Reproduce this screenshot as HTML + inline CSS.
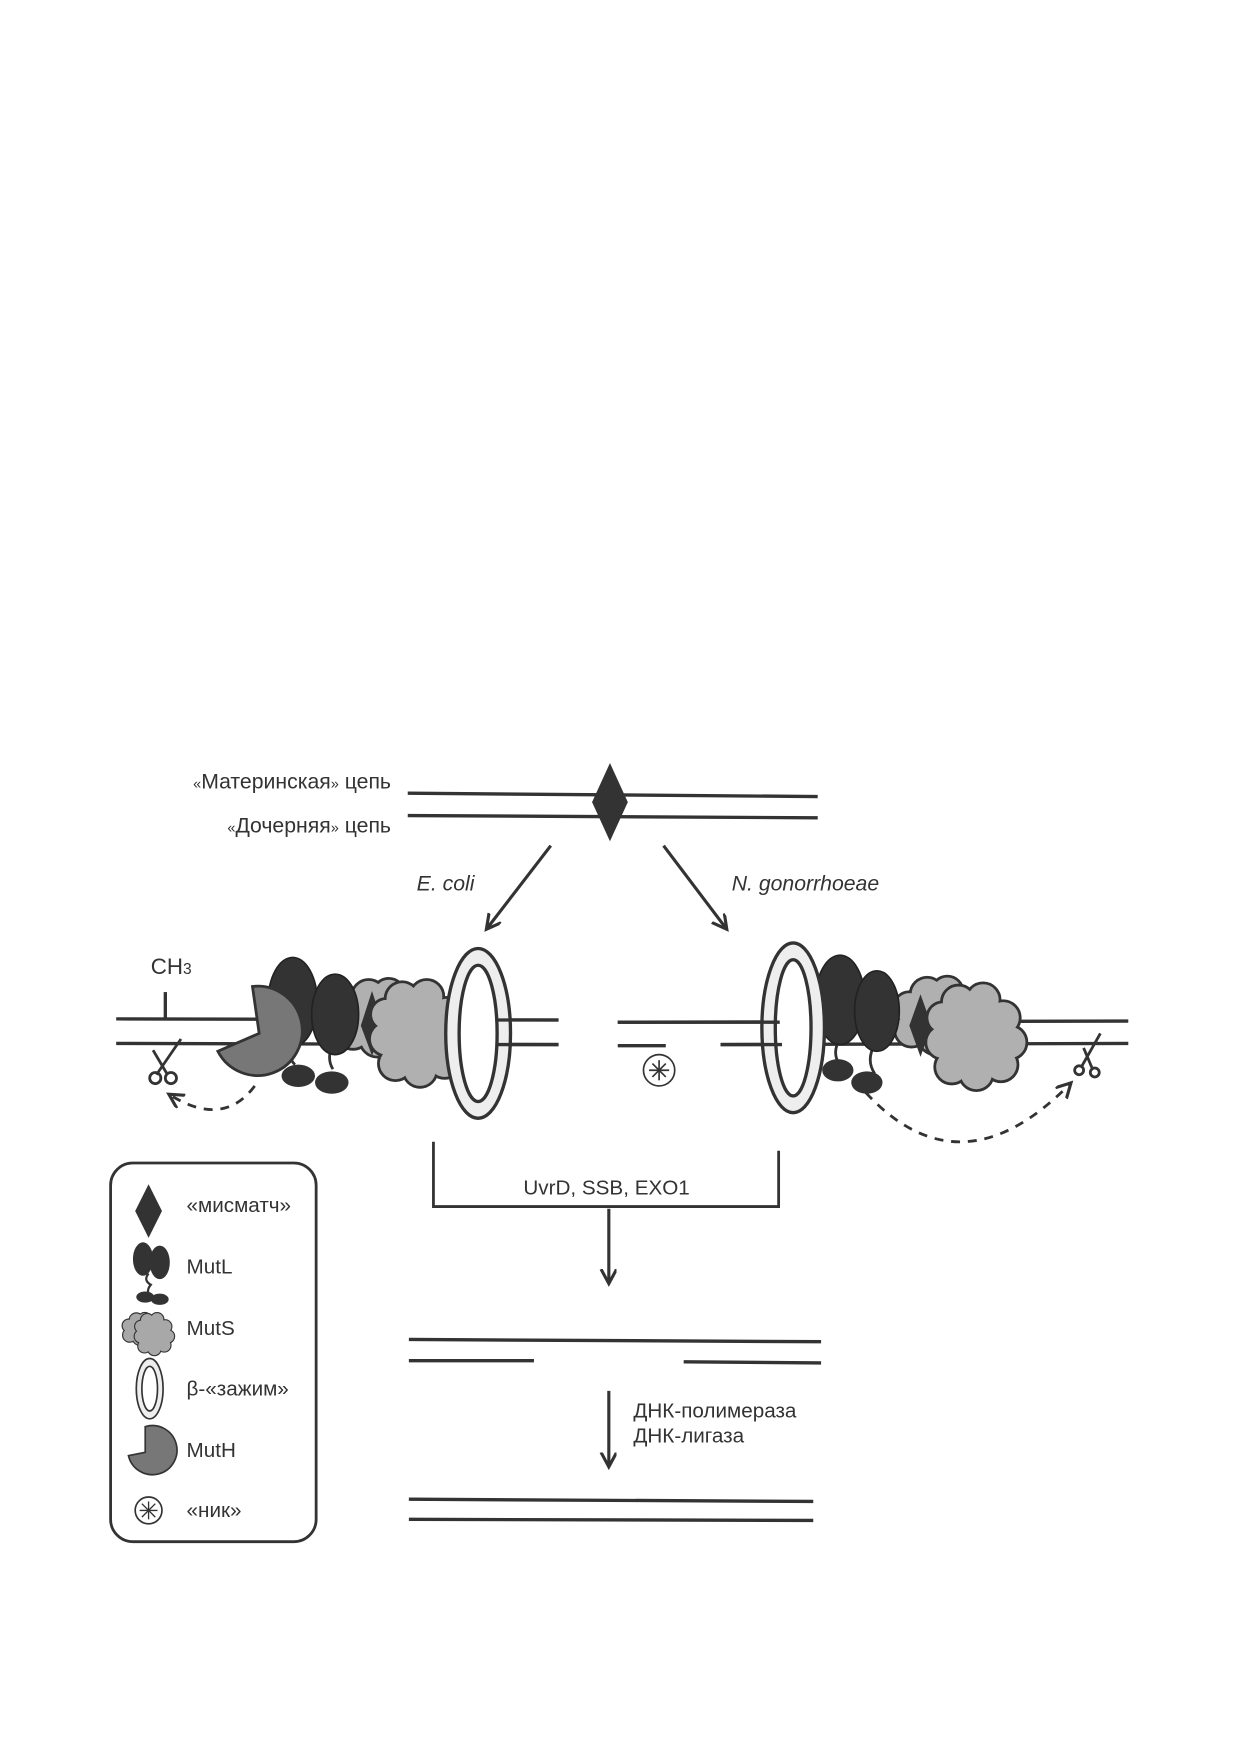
<!DOCTYPE html>
<html><head><meta charset="utf-8"><style>
html,body{margin:0;padding:0;background:#fff}
svg{display:block}
text{font-family:"Liberation Sans",sans-serif;fill:#333}
</style></head><body>
<svg width="1240" height="1754" viewBox="0 0 1110 1570" xmlns="http://www.w3.org/2000/svg">
<defs>
<marker id="ah" markerWidth="16" markerHeight="16" refX="12" refY="7" orient="auto" markerUnits="userSpaceOnUse">
<path d="M0,0 L13,7 L0,14" fill="none" stroke="#333" stroke-width="2.8"/></marker>
<g id="cloudA">
<circle cx="0" cy="-20" r="14"/><circle cx="18" cy="-22" r="13"/><circle cx="-16" cy="-8" r="13"/><circle cx="24" cy="-4" r="14"/><circle cx="-14" cy="12" r="14"/><circle cx="8" cy="18" r="15"/><circle cx="22" cy="14" r="12"/><circle cx="4" cy="0" r="22"/>
</g>
<g id="cloudB">
<circle cx="-8" cy="-28" r="14"/><circle cx="14" cy="-30" r="14"/><circle cx="32" cy="-14" r="14"/><circle cx="38" cy="8" r="14"/><circle cx="30" cy="28" r="14"/><circle cx="8" cy="36" r="14"/><circle cx="-14" cy="30" r="14"/><circle cx="-22" cy="8" r="14"/><circle cx="-22" cy="-14" r="13"/><circle cx="8" cy="2" r="30"/>
</g>
</defs>

<!-- top DNA -->
<line x1="365" y1="710" x2="732" y2="713" stroke="#333" stroke-width="3"/>
<line x1="365" y1="730" x2="732" y2="732" stroke="#333" stroke-width="3"/>
<polygon points="546,683 562,718 546,753 530,718" fill="#333"/>
<text x="350" y="706" font-size="19" text-anchor="end"><tspan font-size="13">«</tspan>Материнская<tspan font-size="13">»</tspan> цепь</text>
<text x="350" y="745" font-size="19" text-anchor="end"><tspan font-size="13">«</tspan>Дочерняя<tspan font-size="13">»</tspan> цепь</text>
<line x1="493" y1="757" x2="436" y2="831" stroke="#333" stroke-width="2.8" marker-end="url(#ah)"/>
<line x1="594" y1="757" x2="650" y2="831" stroke="#333" stroke-width="2.8" marker-end="url(#ah)"/>
<text x="373" y="797" font-size="19" font-style="italic">E. coli</text>
<text x="655" y="797" font-size="19" font-style="italic">N. gonorrhoeae</text>

<!-- left complex -->
<line x1="104" y1="912" x2="500" y2="913" stroke="#333" stroke-width="3"/>
<line x1="104" y1="934" x2="500" y2="935" stroke="#333" stroke-width="3"/>
<text x="135" y="872" font-size="20">CH<tspan font-size="14">3</tspan></text>
<line x1="148" y1="888" x2="148" y2="912" stroke="#333" stroke-width="3"/>
<g stroke="#333" stroke-width="2.5" fill="none">
<line x1="162" y1="930" x2="140" y2="962"/><line x1="137" y1="940" x2="150" y2="962"/>
<circle cx="139" cy="965" r="5"/><circle cx="153" cy="965" r="5"/>
</g>
<path d="M228,972 Q200,1010 152,980" stroke="#333" stroke-width="2.5" fill="none" stroke-dasharray="8,7" marker-end="url(#ah)"/>
<g transform="translate(330,912)" fill="#b0b0b0" stroke="#333" stroke-width="5"><use href="#cloudA"/></g>
<g transform="translate(330,912)" fill="#b0b0b0"><use href="#cloudA"/></g>
<polygon points="333,887 343,918 333,945 323,918" fill="#333"/>
<g transform="translate(368,922)" fill="#b0b0b0" stroke="#333" stroke-width="5"><use href="#cloudB"/></g>
<g transform="translate(368,922)" fill="#b0b0b0"><use href="#cloudB"/></g>
<path d="M262,935 q-6,10 2,18" stroke="#333" stroke-width="2.5" fill="none"/>
<path d="M298,935 q-6,12 0,22" stroke="#333" stroke-width="2.5" fill="none"/>
<ellipse cx="267" cy="963" rx="15" ry="10" fill="#333"/>
<ellipse cx="297" cy="969" rx="15" ry="10" fill="#333"/>
<ellipse cx="262" cy="897" rx="22" ry="40" fill="#333" stroke="#222" stroke-width="1.5"/>
<ellipse cx="300" cy="908" rx="21" ry="36" fill="#333" stroke="#222" stroke-width="1.5"/>
<path d="M232,925 L195,941 A40,40 0 1,0 226,883 Z" fill="#777" stroke="#333" stroke-width="2.5"/>
<ellipse cx="428" cy="925" rx="29" ry="76" fill="#eee" stroke="#333" stroke-width="3"/>
<ellipse cx="428" cy="925" rx="17" ry="61" fill="#fff" stroke="#333" stroke-width="3"/>
<line x1="445" y1="913" x2="500" y2="913" stroke="#333" stroke-width="3"/>
<line x1="445" y1="935" x2="500" y2="935" stroke="#333" stroke-width="3"/>

<!-- right complex -->
<line x1="553" y1="915" x2="1010" y2="914" stroke="#333" stroke-width="3"/>
<line x1="553" y1="936" x2="596" y2="936" stroke="#333" stroke-width="3"/>
<line x1="645" y1="935" x2="1010" y2="934" stroke="#333" stroke-width="3"/>
<circle cx="590" cy="958" r="14" fill="#fff" stroke="#333" stroke-width="1.5"/>
<g stroke="#333" stroke-width="1.5"><line x1="590" y1="949" x2="590" y2="967"/><line x1="581" y1="958" x2="599" y2="958"/><line x1="584" y1="952" x2="596" y2="964"/><line x1="596" y1="952" x2="584" y2="964"/></g>
<g transform="translate(830,910)" fill="#b0b0b0" stroke="#333" stroke-width="5"><use href="#cloudA"/></g>
<g transform="translate(830,910)" fill="#b0b0b0"><use href="#cloudA"/></g>
<polygon points="824,890 834,918 824,946 814,918" fill="#333"/>
<g transform="translate(866,925)" fill="#b0b0b0" stroke="#333" stroke-width="5"><use href="#cloudB"/></g>
<g transform="translate(866,925)" fill="#b0b0b0"><use href="#cloudB"/></g>
<path d="M752,930 q-8,12 0,24" stroke="#333" stroke-width="2.5" fill="none"/>
<path d="M783,935 q-8,14 0,26" stroke="#333" stroke-width="2.5" fill="none"/>
<ellipse cx="750" cy="958" rx="14" ry="10" fill="#333"/>
<ellipse cx="776" cy="969" rx="14" ry="10" fill="#333"/>
<ellipse cx="752" cy="895" rx="22" ry="40" fill="#333" stroke="#222" stroke-width="1.5"/>
<ellipse cx="785" cy="905" rx="20" ry="36" fill="#333" stroke="#222" stroke-width="1.5"/>
<ellipse cx="710" cy="920" rx="28" ry="76" fill="#eee" stroke="#333" stroke-width="3"/>
<ellipse cx="710" cy="920" rx="16" ry="61" fill="#fff" stroke="#333" stroke-width="3"/>
<line x1="645" y1="935" x2="700" y2="935" stroke="#333" stroke-width="3"/>
<line x1="553" y1="915" x2="698" y2="915" stroke="#333" stroke-width="3"/>
<g stroke="#333" stroke-width="2.5" fill="none">
<line x1="985" y1="925" x2="968" y2="955"/><line x1="970" y1="938" x2="978" y2="957"/>
<circle cx="966" cy="958" r="4"/><circle cx="980" cy="960" r="4"/>
</g>
<path d="M775,978 Q860,1070 958,970" stroke="#333" stroke-width="2.5" fill="none" stroke-dasharray="8,7" marker-end="url(#ah)"/>

<!-- bracket -->
<polyline points="388,1022 388,1080 697,1080 697,1030" fill="none" stroke="#333" stroke-width="2.5"/>
<text x="543" y="1069" font-size="18.5" text-anchor="middle">UvrD, SSB, EXO1</text>
<line x1="545" y1="1082" x2="545" y2="1148" stroke="#333" stroke-width="2.8" marker-end="url(#ah)"/>

<line x1="366" y1="1199" x2="735" y2="1201" stroke="#333" stroke-width="3"/>
<line x1="366" y1="1218" x2="478" y2="1218" stroke="#333" stroke-width="3"/>
<line x1="612" y1="1219" x2="735" y2="1220" stroke="#333" stroke-width="3"/>
<line x1="545" y1="1245" x2="545" y2="1312" stroke="#333" stroke-width="2.8" marker-end="url(#ah)"/>
<text x="567" y="1269" font-size="18.5">ДНК-полимераза</text>
<text x="567" y="1291" font-size="18.5">ДНК-лигаза</text>
<line x1="366" y1="1342" x2="728" y2="1344" stroke="#333" stroke-width="3"/>
<line x1="366" y1="1360" x2="728" y2="1361" stroke="#333" stroke-width="3"/>

<!-- legend -->
<rect x="99" y="1041" width="184" height="339" rx="20" fill="#fff" stroke="#333" stroke-width="2.5"/>
<polygon points="133,1060 145,1084 133,1108 121,1084" fill="#333"/>
<text x="167" y="1085" font-size="18.5">«мисматч»</text>
<path d="M133,1140 q-5,6 2,10 q-5,6 0,10" stroke="#333" stroke-width="2" fill="none"/>
<ellipse cx="130" cy="1161" rx="8" ry="5" fill="#333"/><ellipse cx="143" cy="1163" rx="8" ry="5" fill="#333"/>
<ellipse cx="128" cy="1127" rx="9" ry="15" fill="#333"/><ellipse cx="143" cy="1130" rx="9" ry="15" fill="#333"/>
<text x="167" y="1140" font-size="18.5">MutL</text>
<g transform="translate(122,1190) scale(0.42)" fill="#a8a8a8" stroke="#333" stroke-width="5"><use href="#cloudA"/></g>
<g transform="translate(122,1190) scale(0.42)" fill="#a8a8a8"><use href="#cloudA"/></g>
<g transform="translate(135,1193) scale(0.4)" fill="#a8a8a8" stroke="#333" stroke-width="5"><use href="#cloudB"/></g>
<g transform="translate(135,1193) scale(0.4)" fill="#a8a8a8"><use href="#cloudB"/></g>
<text x="167" y="1195" font-size="18.5">MutS</text>
<ellipse cx="134" cy="1243" rx="12" ry="27" fill="#eee" stroke="#333" stroke-width="1.5"/>
<ellipse cx="134" cy="1243" rx="7" ry="20" fill="#fff" stroke="#333" stroke-width="1.5"/>
<text x="167" y="1249" font-size="18.5">β-«зажим»</text>
<path d="M130,1300 L115,1303 A22,22 0 1,0 130,1277 Z" fill="#777" stroke="#333" stroke-width="1.5"/>
<text x="167" y="1304" font-size="18.5">MutH</text>
<circle cx="133" cy="1352" r="12" fill="#fff" stroke="#333" stroke-width="1.5"/>
<g stroke="#333" stroke-width="1.2"><line x1="133" y1="1344" x2="133" y2="1360"/><line x1="125" y1="1352" x2="141" y2="1352"/><line x1="127" y1="1346" x2="139" y2="1358"/><line x1="139" y1="1346" x2="127" y2="1358"/></g>
<text x="167" y="1358" font-size="18.5">«ник»</text>
</svg>
</body></html>
